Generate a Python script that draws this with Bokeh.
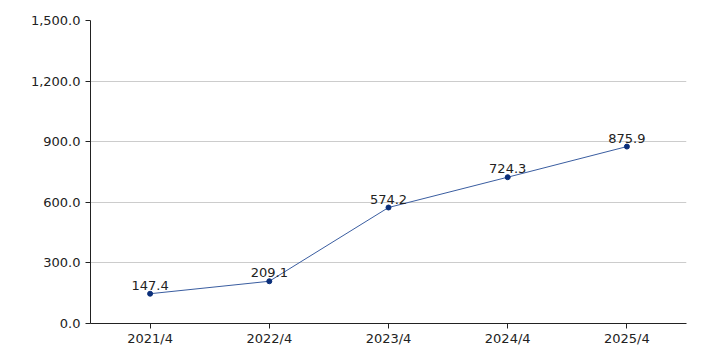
from bokeh.plotting import figure
from bokeh.models import ColumnDataSource, NumeralTickFormatter, FixedTicker, Range1d, FactorRange
from bokeh.core.properties import value
from bokeh.embed import file_html
from bokeh.resources import INLINE

categories = ["2021/4", "2022/4", "2023/4", "2024/4", "2025/4"]
values = [147.4, 209.1, 574.2, 724.3, 875.9]
labels = ["147.4", "209.1", "574.2", "724.3", "875.9"]
y_ticks = [0, 300, 600, 900, 1200, 1500]

src = ColumnDataSource(dict(x=categories, y=values, t=labels))

FONT = "DejaVu Sans"

p = figure(width=706, height=353, x_range=FactorRange(*categories, range_padding=0),
           y_range=Range1d(0, 1500), output_backend="svg", toolbar_location=None,
           min_border_left=90, min_border_right=20, min_border_top=20, min_border_bottom=30)
p.outline_line_color = None
p.background_fill_color = "white"

p.line("x", "y", source=src, line_color="#3a5da0", line_width=1)
p.scatter("x", "y", source=src, size=5, fill_color="#0b2f7a", line_color="#0b2f7a")
p.text("x", "y", text="t", source=src, text_align="center", text_baseline="bottom",
       y_offset=-4, text_font=value(FONT), text_font_size="13px", text_color="#222222")

p.yaxis.ticker = FixedTicker(ticks=y_ticks)
p.yaxis.formatter = NumeralTickFormatter(format="0,0.0")
for ax in (p.xaxis[0], p.yaxis[0]):
    ax.major_label_text_font = FONT
    ax.major_label_text_font_size = "13px"
    ax.major_label_text_color = "#222222"
    ax.axis_line_color = "#222222"
    ax.major_tick_line_color = "#222222"
    ax.major_tick_in = 0
    ax.major_tick_out = 5
    ax.minor_tick_line_color = None
p.yaxis.major_label_standoff = 5
p.xaxis.major_label_standoff = 2

p.xgrid.grid_line_color = None
p.ygrid.grid_line_color = "#cccccc"
p.ygrid.ticker = FixedTicker(ticks=y_ticks)

open("out.html", "w").write(file_html(p, INLINE))
